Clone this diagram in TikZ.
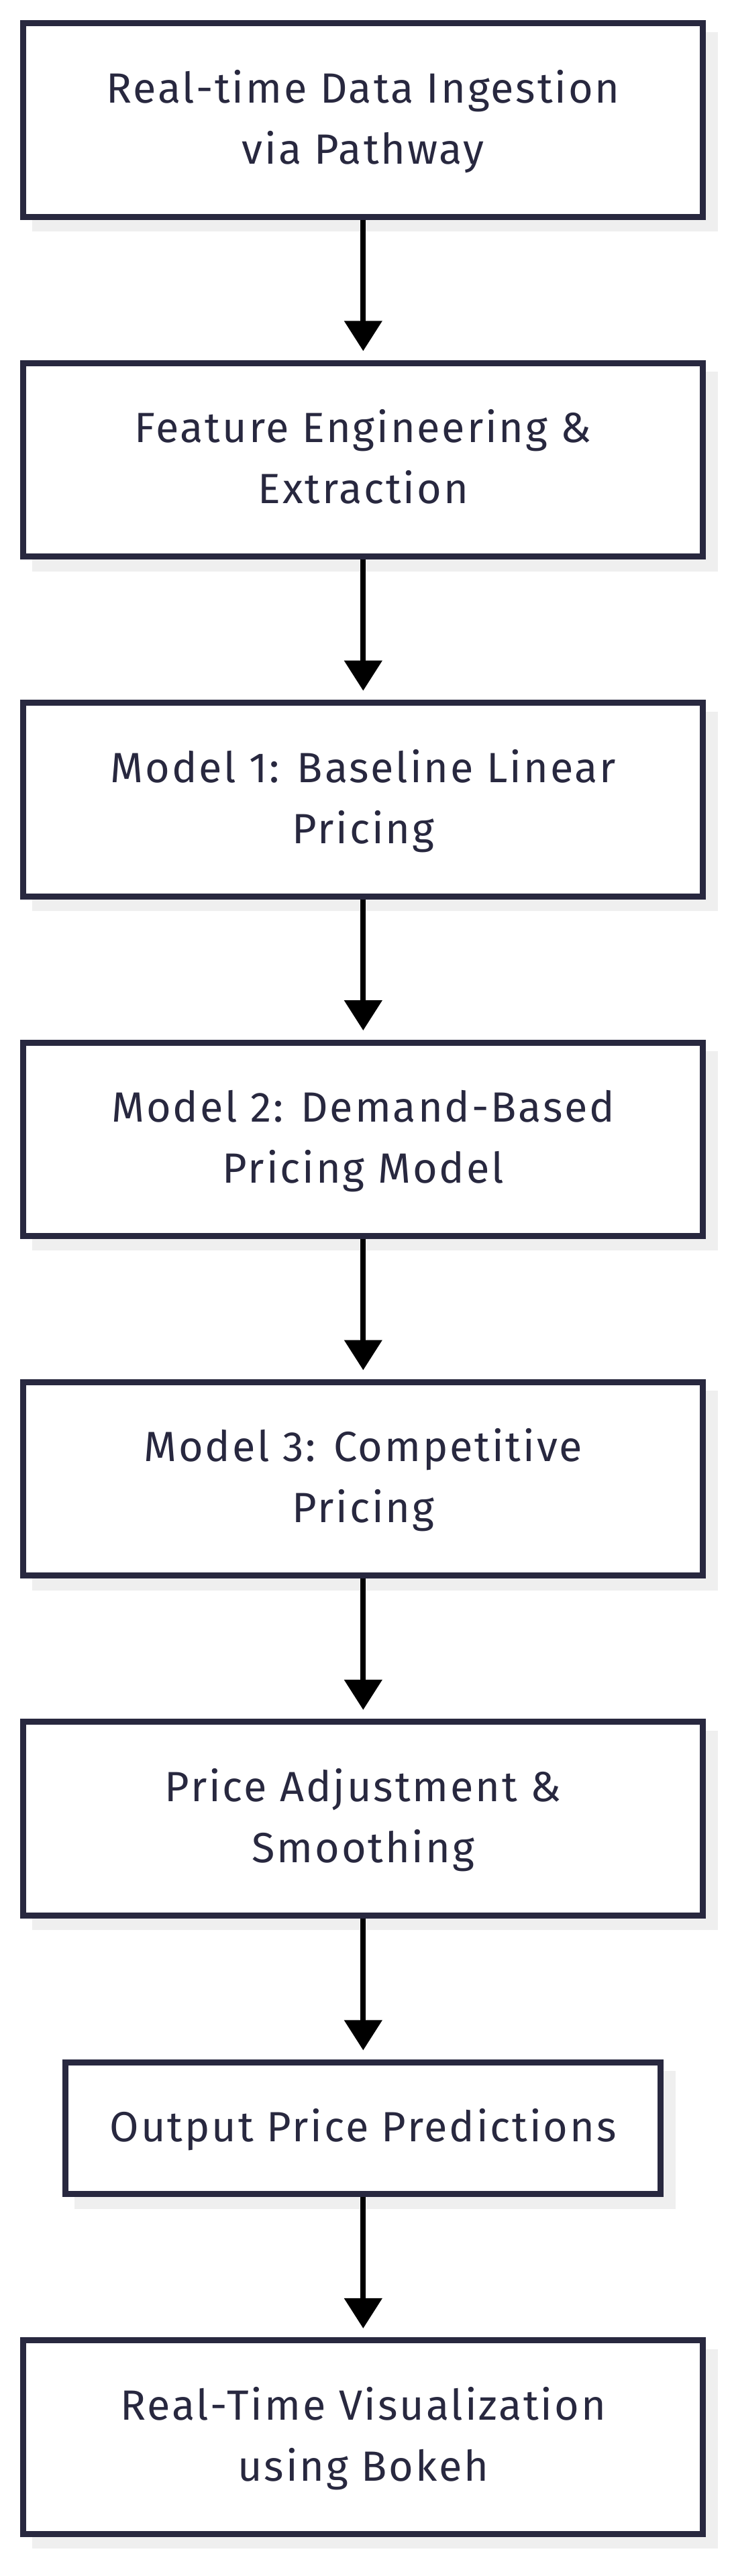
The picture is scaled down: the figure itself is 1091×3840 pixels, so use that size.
\documentclass[tikz,border=0pt]{standalone}
\usepackage{fontspec}
\setmainfont{Fira Sans}[LetterSpace=4.5]
\usetikzlibrary{arrows.meta,backgrounds}
\definecolor{navy}{HTML}{28283F}
\definecolor{shadowc}{HTML}{EFEFEF}
\newcommand\ptxt[1]{\rule[-4.4pt]{0pt}{48.4pt}\smash{#1}}
\tikzset{
  box/.style={draw=navy, line width=9pt, fill=white, rectangle, inner sep=0pt, outer sep=4.5pt,
    minimum width=1013pt, minimum height=288.4pt, align=center, text=navy,
    font=\fontsize{63}{91}\selectfont},
  smallbox/.style={box, minimum width=887pt, minimum height=196.5pt},
  flow/.style={draw=black, line width=8pt, shorten >=13.4pt, -{Triangle[length=45pt,width=55pt]}}
}
\begin{document}
\begin{tikzpicture}[x=1pt,y=-1pt]
\useasboundingbox (0,0) rectangle (1091,3840);
\node[box] (b1) at (541.3,179.0) {\ptxt{Real-time Data Ingestion}\\\ptxt{via Pathway}};
\node[box] (b2) at (541.3,685.4) {\ptxt{Feature Engineering \&}\\\ptxt{Extraction}};
\node[box] (b3) at (541.3,1191.8) {\ptxt{Model 1: Baseline Linear}\\\ptxt{Pricing}};
\node[box] (b4) at (541.3,1698.2) {\ptxt{Model 2: Demand-Based}\\\ptxt{Pricing Model}};
\node[box] (b5) at (541.3,2204.6) {\ptxt{Model 3: Competitive}\\\ptxt{Pricing}};
\node[box] (b6) at (541.3,2711.0) {\ptxt{Price Adjustment \&}\\\ptxt{Smoothing}};
\node[smallbox] (b7) at (541.3,3172.5) {\ptxt{Output Price Predictions}};
\node[box] (b8) at (541.3,3633.0) {\ptxt{Real-Time Visualization}\\\ptxt{using Bokeh}};
\begin{pgfonlayer}{background}
\foreach \n in {b1,b2,b3,b4,b5,b6,b7,b8}{
  \fill[shadowc] ([shift={(17.5,17.5)}]\n.north west) rectangle ([shift={(17.5,17.5)}]\n.south east);
}
\end{pgfonlayer}
\draw[flow] (b1.south) -- (b2.north);
\draw[flow] (b2.south) -- (b3.north);
\draw[flow] (b3.south) -- (b4.north);
\draw[flow] (b4.south) -- (b5.north);
\draw[flow] (b5.south) -- (b6.north);
\draw[flow] (b6.south) -- (b7.north);
\draw[flow] (b7.south) -- (b8.north);
\end{tikzpicture}
\end{document}
